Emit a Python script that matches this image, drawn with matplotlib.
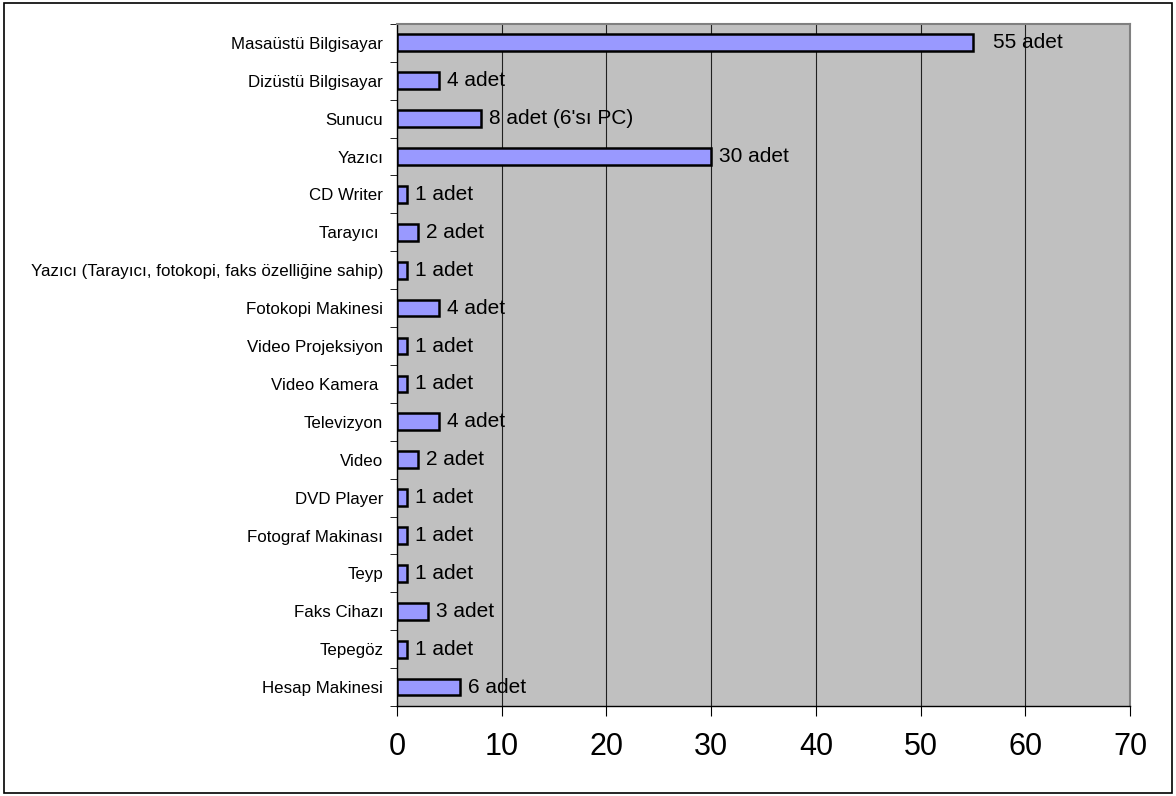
import matplotlib
matplotlib.use("Agg")
from matplotlib import pyplot as plt
from matplotlib.patches import Rectangle
import numpy as np

plt.rcParams['font.family'] = ['Liberation Sans', 'DejaVu Sans']

kategoriler = ['Masaüstü Bilgisayar', 'Dizüstü Bilgisayar', 'Sunucu', 'Yazıcı',
               'CD Writer', 'Tarayıcı ', 'Yazıcı (Tarayıcı, fotokopi, faks özelliğine sahip)',
               'Fotokopi Makinesi', 'Video Projeksiyon', 'Video Kamera ', 'Televizyon',
               'Video', 'DVD Player', 'Fotograf Makinası', 'Teyp', 'Faks Cihazı',
               'Tepegöz', 'Hesap Makinesi']
adetler = [55, 4, 8, 30, 1, 2, 1, 4, 1, 1, 4, 2, 1, 1, 1, 3, 1, 6]
etiketler = ['55 adet', '4 adet', "8 adet (6'sı PC)", '30 adet', '1 adet', '2 adet',
             '1 adet', '4 adet', '1 adet', '1 adet', '4 adet', '2 adet', '1 adet',
             '1 adet', '1 adet', '3 adet', '1 adet', '6 adet']
xticks = [0, 10, 20, 30, 40, 50, 60, 70]

fig = plt.figure(figsize=(11.76, 7.96), dpi=100)
fig.patches.append(Rectangle((0.003, 0.004), 0.994, 0.992, transform=fig.transFigure,
                             fill=False, edgecolor='black', linewidth=1.2))
ax = fig.add_axes([0.3376, 0.113, 0.6234, 0.857])
ax.set_facecolor('#C0C0C0')

n = len(kategoriler)
y = np.arange(n)
ax.barh(y, adetler, height=0.44, color='#9999FF', edgecolor='black', linewidth=1.8, zorder=3)

for i in range(n):
    ofs = 20 if adetler[i] >= 50 else 8
    ax.annotate(etiketler[i], xy=(adetler[i], y[i]), xytext=(ofs, 0),
                textcoords='offset pixels', va='center', ha='left', fontsize=15, zorder=4)

ax.set_xlim(0, 70)
ax.set_ylim(n - 0.5, -0.5)
ax.set_xticks(xticks)
ax.set_xticklabels([str(v) for v in xticks], fontsize=22)
ax.xaxis.grid(True, color='#202020', linewidth=0.8, zorder=1)
ax.set_axisbelow(True)

ax.set_yticks(y)
ax.set_yticklabels(kategoriler, fontsize=12.2)
ax.set_yticks(np.arange(n + 1) - 0.5, minor=True)
ax.tick_params(axis='y', which='major', length=0, pad=10)
ax.tick_params(axis='y', which='minor', length=5, direction='out', color='black')
ax.tick_params(axis='x', length=7, direction='out', pad=12)

for s in ['top', 'right']:
    ax.spines[s].set_color('#808080')
    ax.spines[s].set_linewidth(1.5)
for s in ['left', 'bottom']:
    ax.spines[s].set_color('black')
    ax.spines[s].set_linewidth(1.0)

fig.savefig('out.png', dpi=100)
